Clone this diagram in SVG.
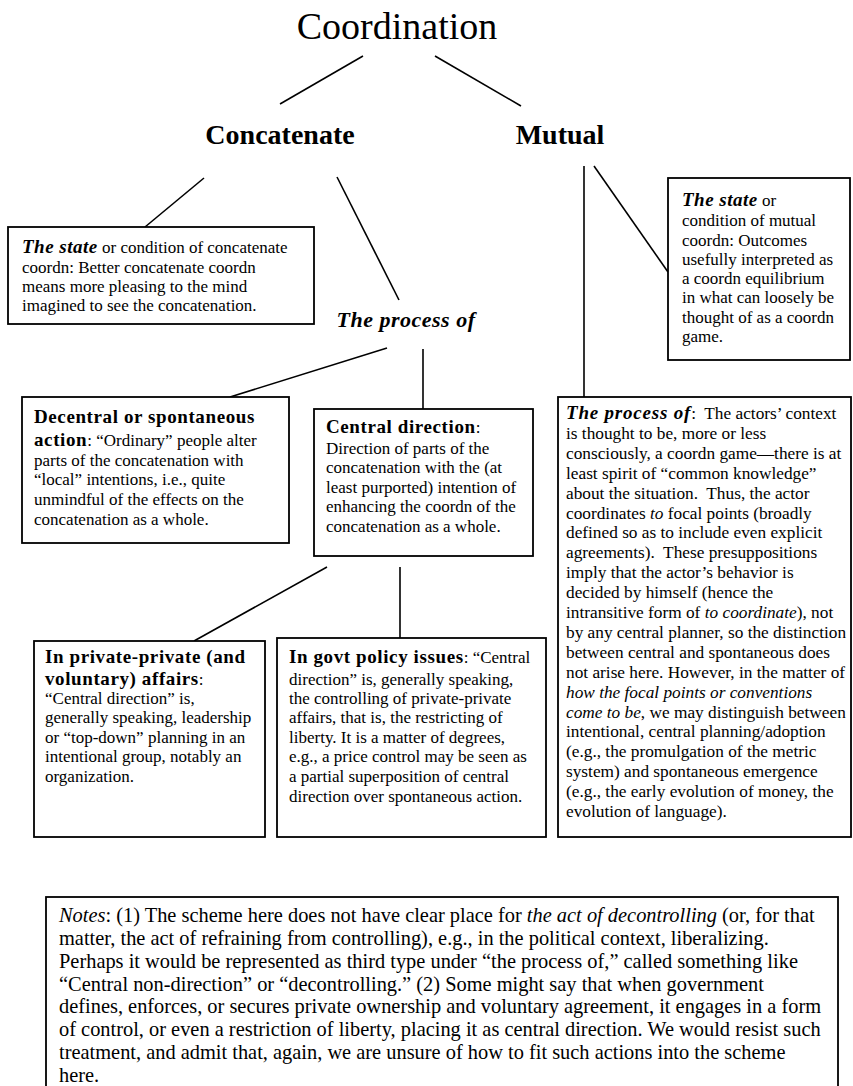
<svg xmlns="http://www.w3.org/2000/svg" width="853" height="1086" viewBox="0 0 853 1086" font-family="'Liberation Serif', serif">
<style>
text{font-family:'Liberation Serif',serif;fill:#000;font-size:17px}
.box{fill:#fff;stroke:#000;stroke-width:1.8}
.ln{stroke:#000;stroke-width:1.6;fill:none}
.h{font-weight:bold;font-size:19px;letter-spacing:0.6px}
.bi{font-weight:bold;font-style:italic}
.st{font-weight:bold;font-style:italic;font-size:19px;letter-spacing:0.5px}
.i{font-style:italic}
.n{font-size:20.4px}
.m{font-size:17.3px}
</style>
<rect width="853" height="1086" fill="#fff"/>
<g id="connectors">
<line class="ln" x1="363" y1="56" x2="280" y2="104"/>
<line class="ln" x1="435" y1="56" x2="521" y2="106"/>
<line class="ln" x1="204" y1="178" x2="145" y2="227"/>
<line class="ln" x1="337" y1="177" x2="399" y2="300"/>
<line class="ln" x1="584" y1="166" x2="584" y2="397"/>
<line class="ln" x1="594" y1="166" x2="668" y2="272"/>
<line class="ln" x1="387" y1="348" x2="230" y2="397"/>
<line class="ln" x1="423" y1="349" x2="423" y2="409"/>
<line class="ln" x1="327" y1="567" x2="194" y2="641"/>
<line class="ln" x1="400" y1="567" x2="400" y2="638"/>
</g>
<g id="coordination"><text x="397" y="39" text-anchor="middle" style="font-size:38px">Coordination</text></g>
<g id="concatenate"><text x="280" y="144" text-anchor="middle" style="font-size:28px;font-weight:bold">Concatenate</text></g>
<g id="mutual"><text x="560" y="144" text-anchor="middle" style="font-size:28px;font-weight:bold">Mutual</text></g>
<g id="concat-state">
<rect class="box" x="8" y="227" width="306" height="97"/>
<text x="22" y="253"><tspan class="st">The state</tspan> or condition of concatenate</text>
<text x="22" y="273">coordn: Better concatenate coordn</text>
<text x="22" y="292">means more pleasing to the mind</text>
<text x="22" y="311">imagined to see the concatenation.</text>
</g>
<g id="process-of"><text x="406" y="327" text-anchor="middle" class="bi" style="font-size:22px;letter-spacing:0.5px">The process of</text></g>
<g id="mutual-state">
<rect class="box" x="668" y="178" width="182" height="182"/>
<text x="682" y="206"><tspan class="st">The state</tspan> or</text>
<text x="682" y="226">condition of mutual</text>
<text x="682" y="246">coordn: Outcomes</text>
<text x="682" y="265">usefully interpreted as</text>
<text x="682" y="284">a coordn equilibrium</text>
<text x="682" y="303">in what can loosely be</text>
<text x="682" y="323">thought of as a coordn</text>
<text x="682" y="342">game.</text>
</g>
<g id="decentral">
<rect class="box" x="22" y="397" width="267" height="146"/>
<text x="34" y="423" class="h">Decentral or spontaneous</text>
<text x="34" y="446"><tspan class="h">action</tspan>: “Ordinary” people alter</text>
<text x="34" y="466">parts of the concatenation with</text>
<text x="34" y="485">“local” intentions, i.e., quite</text>
<text x="34" y="505">unmindful of the effects on the</text>
<text x="34" y="525">concatenation as a whole.</text>
</g>
<g id="central">
<rect class="box" x="314" y="409" width="219" height="147"/>
<text x="326" y="433"><tspan class="h">Central direction</tspan>:</text>
<text x="326" y="454">Direction of parts of the</text>
<text x="326" y="473">concatenation with the (at</text>
<text x="326" y="493">least purported) intention of</text>
<text x="326" y="512">enhancing the coordn of the</text>
<text x="326" y="532">concatenation as a whole.</text>
</g>
<g id="mutual-process" class="m">
<rect class="box" x="558" y="397" width="293" height="440"/>
<text class="m" x="566" y="419" xml:space="preserve"><tspan class="bi" style="font-size:19px;letter-spacing:0.8px">The process of</tspan>:  The actors’ context</text>
<text class="m" x="566" y="438.9">is thought to be, more or less</text>
<text class="m" x="566" y="458.8">consciously, a coordn game—there is at</text>
<text class="m" x="566" y="478.7">least spirit of “common knowledge”</text>
<text class="m" x="566" y="498.6" xml:space="preserve">about the situation.  Thus, the actor</text>
<text class="m" x="566" y="518.5">coordinates <tspan class="i">to</tspan> focal points (broadly</text>
<text class="m" x="566" y="538.4">defined so as to include even explicit</text>
<text class="m" x="566" y="558.3" xml:space="preserve">agreements).  These presuppositions</text>
<text class="m" x="566" y="578.2">imply that the actor’s behavior is</text>
<text class="m" x="566" y="598.1">decided by himself (hence the</text>
<text class="m" x="566" y="618">intransitive form of <tspan class="i">to coordinate</tspan>), not</text>
<text class="m" x="566" y="637.9">by any central planner, so the distinction</text>
<text class="m" x="566" y="657.8">between central and spontaneous does</text>
<text class="m" x="566" y="677.7">not arise here. However, in the matter of</text>
<text class="m i" x="566" y="697.6">how the focal points or conventions</text>
<text class="m" x="566" y="717.5"><tspan class="i">come to be</tspan>, we may distinguish between</text>
<text class="m" x="566" y="737.4">intentional, central planning/adoption</text>
<text class="m" x="566" y="757.3">(e.g., the promulgation of the metric</text>
<text class="m" x="566" y="777.2">system) and spontaneous emergence</text>
<text class="m" x="566" y="797.1">(e.g., the early evolution of money, the</text>
<text class="m" x="566" y="817">evolution of language).</text>
</g>
<g id="private">
<rect class="box" x="34" y="641" width="231" height="196"/>
<text x="45" y="663" class="h">In private-private (and</text>
<text x="45" y="685"><tspan class="h">voluntary) affairs</tspan>:</text>
<text x="45" y="704">“Central direction” is,</text>
<text x="45" y="723">generally speaking, leadership</text>
<text x="45" y="743">or “top-down” planning in an</text>
<text x="45" y="762">intentional group, notably an</text>
<text x="45" y="782">organization.</text>
</g>
<g id="govt">
<rect class="box" x="277" y="638" width="269" height="199"/>
<text x="289" y="663"><tspan class="h">In govt policy issues</tspan>: “Central</text>
<text x="289" y="685">direction” is, generally speaking,</text>
<text x="289" y="704">the controlling of private-private</text>
<text x="289" y="723">affairs, that is, the restricting of</text>
<text x="289" y="743">liberty. It is a matter of degrees,</text>
<text x="289" y="762">e.g., a price control may be seen as</text>
<text x="289" y="782">a partial superposition of central</text>
<text x="289" y="802">direction over spontaneous action.</text>
</g>
<g id="notes">
<rect class="box" x="46" y="897" width="792" height="205"/>
<text class="n" x="59" y="922"><tspan class="i">Notes</tspan>: (1) The scheme here does not have clear place for <tspan class="i">the act of decontrolling</tspan> (or, for that</text>
<text class="n" x="59" y="945">matter, the act of refraining from controlling), e.g., in the political context, liberalizing.</text>
<text class="n" x="59" y="967.7">Perhaps it would be represented as third type under “the process of,” called something like</text>
<text class="n" x="59" y="990.5">“Central non-direction” or “decontrolling.” (2) Some might say that when government</text>
<text class="n" x="59" y="1013.3">defines, enforces, or secures private ownership and voluntary agreement, it engages in a form</text>
<text class="n" x="59" y="1036">of control, or even a restriction of liberty, placing it as central direction. We would resist such</text>
<text class="n" x="59" y="1058.8">treatment, and admit that, again, we are unsure of how to fit such actions into the scheme</text>
<text class="n" x="59" y="1081.5">here.</text>
</g>
</svg>
